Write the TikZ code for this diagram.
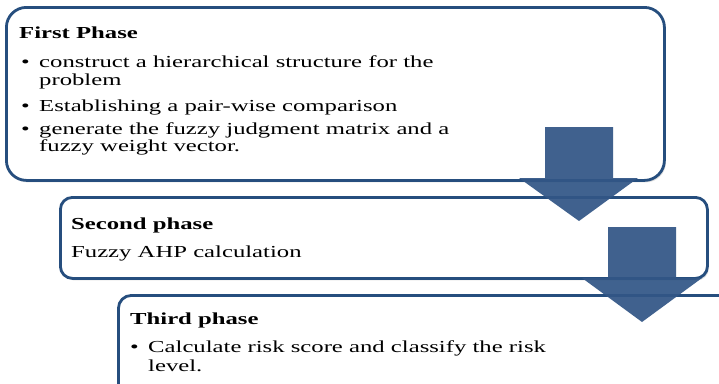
\documentclass[tikz,border=0pt]{standalone}
\usepackage{fontspec}
\setmainfont{Liberation Serif}[FakeStretch=1.47]
\usetikzlibrary{shadows}
\definecolor{bordc}{RGB}{38,78,126}
\definecolor{arrc}{RGB}{50,86,134}
\begin{document}
\begin{tikzpicture}[x=1pt,y=-1pt,
  phasebox/.style={draw=bordc, line width=2.8pt, fill=white, anchor=north west, inner sep=0pt,
    drop shadow={shadow xshift=1.5pt,shadow yshift=-2pt,opacity=0.25}},
  txt/.style={anchor=base west, inner sep=0pt, font=\fontsize{16.8}{18}\selectfont},
  hd/.style={txt, font=\fontsize{16.8}{18}\selectfont\bfseries},
  blockarrow/.style={fill=arrc, fill opacity=0.93}]
\useasboundingbox (0,0) rectangle (719,383);
\clip (0,0) rectangle (719,383);
% boxes
\node[phasebox, rounded corners=20pt, minimum width=658pt, minimum height=173pt] (p1) at (5,6) {};
\node[phasebox, rounded corners=12pt, minimum width=647pt, minimum height=81pt] (p2) at (59,196) {};
\node[phasebox, rounded corners=13pt, minimum width=700pt, minimum height=200pt] (p3) at (117,294) {};
% texts of first phase
\node[hd] (t1) at (19,38.5) {First Phase};
\node[txt] (b11) at (21,67.5) {•};
\node[txt] (l11) at (39,67.5) {construct a hierarchical structure for the};
\node[txt] (l12) at (39,85.5) {problem};
\node[txt] (b12) at (21,111.5) {•};
\node[txt] (l13) at (39,111.5) {Establishing a pair-wise comparison};
\node[txt] (b13) at (21,134) {•};
\node[txt] (l14) at (39,134) {generate the fuzzy judgment matrix and a};
\node[txt] (l15) at (39,151) {fuzzy weight vector.};
% second phase
\node[hd] (t2) at (71,229) {Second phase};
\node[txt] (l21) at (71,257) {Fuzzy AHP calculation};
% third phase
\node[hd] (t3) at (130,324) {Third phase};
\node[txt] (b31) at (130,352) {•};
\node[txt] (l31) at (148,352) {Calculate risk score and classify the risk};
\node[txt] (l32) at (148,371) {level.};
% block arrows
\fill[blockarrow] (545,127) -- (613,127) -- (613,178) -- (638,178) -- (579,221) -- (519,178) -- (545,178) -- cycle;
\fill[blockarrow] (608,227) -- (676,227) -- (676,278) -- (702,278) -- (642,322) -- (582,278) -- (608,278) -- cycle;
\end{tikzpicture}
\end{document}
